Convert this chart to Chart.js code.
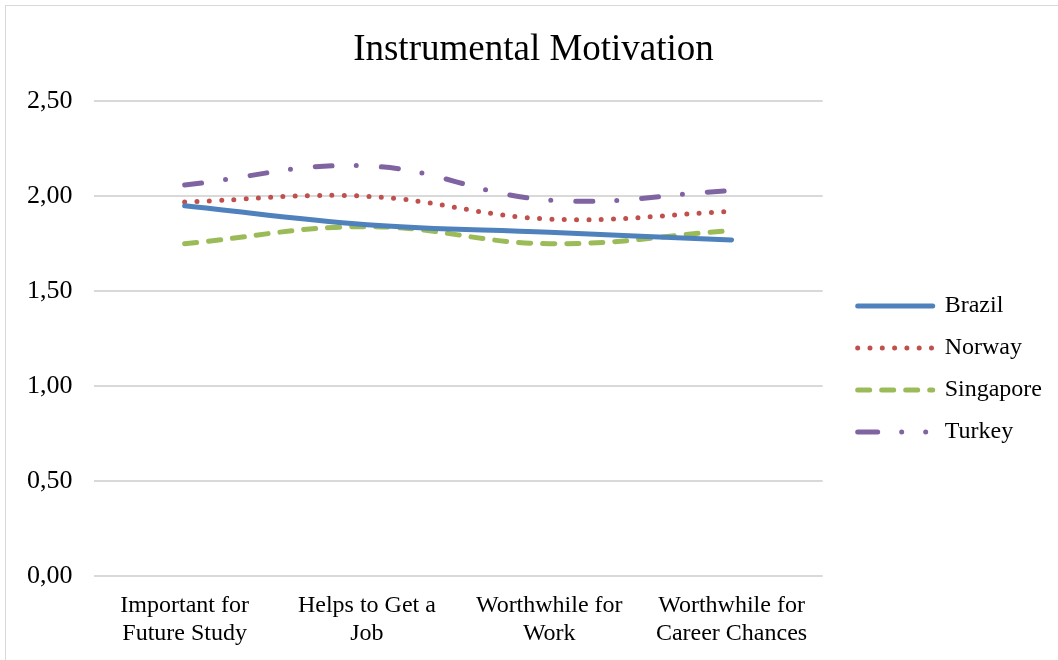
<!DOCTYPE html>
<html>
<head>
<meta charset="utf-8">
<script src="https://cdn.jsdelivr.net/npm/chart.js@4"></script>
<style>
  html, body { margin: 0; padding: 0; background: #fff; }
  #frame {
    position: absolute; left: 5px; top: 5px;
    width: 1060px; height: 670px;
    border: 1px solid #d9d9d9;
  }
  #wrap { position: absolute; left: 0; top: 0; width: 1058px; height: 660px; }
</style>
</head>
<body>
<div id="frame"></div>
<div id="wrap"><canvas id="chart"></canvas></div>
<script>
// categories (two-line labels as in the original)
const categories = [
  ['Important for', 'Future Study'],
  ['Helps to Get a', 'Job'],
  ['Worthwhile for', 'Work'],
  ['Worthwhile for', 'Career Chances']
];

// mean scores per country
const brazil = [1.95, 1.85, 1.81, 1.77];
const norway = [1.97, 2.00, 1.88, 1.92];
const singapore = [1.75, 1.84, 1.75, 1.82];
const turkey = [2.06, 2.16, 1.98, 2.03];

const yMin = 0;
const yMax = 2.5;
const yStep = 0.5;

const serif = "'Liberation Serif', 'Times New Roman', serif";

// Excel draws the legend sample of the dash-dot line a bit differently
const legendDash = { Turkey: [20, 24, 0, 24, 0, 100] };

function series(label, data, color, dash) {
  return {
    label,
    data,
    borderColor: color,
    backgroundColor: color,
    borderWidth: 5,
    borderDash: dash,
    borderCapStyle: 'round',
    pointRadius: 0,
    pointHoverRadius: 0,
    tension: 0.4,
    fill: false
  };
}

const datasets = [
  series('Brazil', brazil, '#4F81BD', []),
  series('Norway', norway, '#C0504D', [0, 12.3]),
  series('Singapore', singapore, '#9BBB59', [12, 12]),
  series('Turkey', turkey, '#8064A2', [17, 24, 0, 25])
];

// nudge legend and title a little, like the original
const nudge = {
  id: 'nudge',
  afterLayout(chart) {
    const lg = chart.legend;
    lg.left += 17;
    lg.right += 17;
    lg.top += 33;
    lg.bottom += 33;
    const t = chart.titleBlock;
    if (t) {
      t.left += 13;
      t.right += 13;
    }
  }
};

new Chart(document.getElementById('chart'), {
  type: 'line',
  data: { labels: categories, datasets },
  plugins: [nudge],
  options: {
    responsive: true,
    maintainAspectRatio: false,
    animation: false,
    layout: { padding: { left: 6, right: 23, top: 8, bottom: -4 } },
    plugins: {
      title: {
        display: true,
        text: 'Instrumental Motivation',
        color: '#000',
        font: { family: serif, size: 37, weight: 'normal' },
        padding: { top: 20, bottom: 29 }
      },
      legend: {
        position: 'right',
        labels: {
          color: '#000',
          font: { family: serif, size: 24 },
          usePointStyle: true,
          pointStyle: 'line',
          pointStyleWidth: 75,
          padding: 18,
          generateLabels: chart => {
            const items = Chart.defaults.plugins.legend.labels.generateLabels(chart);
            items.forEach(it => {
              const ds = chart.data.datasets[it.datasetIndex];
              it.lineDash = legendDash[ds.label] || ds.borderDash;
              it.lineCap = 'round';
            });
            return items;
          }
        }
      },
      tooltip: { enabled: false }
    },
    scales: {
      x: {
        offset: true,
        grid: { display: false, drawTicks: false },
        border: { display: false },
        ticks: {
          color: '#000',
          font: { family: serif, size: 24, lineHeight: 1.17 },
          padding: 16,
          maxRotation: 0
        }
      },
      y: {
        min: yMin,
        max: yMax,
        grid: { color: '#d9d9d9', lineWidth: 2, drawTicks: false },
        border: { display: false },
        ticks: {
          stepSize: yStep,
          color: '#000',
          font: { family: serif, size: 26 },
          padding: 21,
          callback: v => v.toFixed(2).replace('.', ',')
        }
      }
    }
  }
});
</script>
</body>
</html>
